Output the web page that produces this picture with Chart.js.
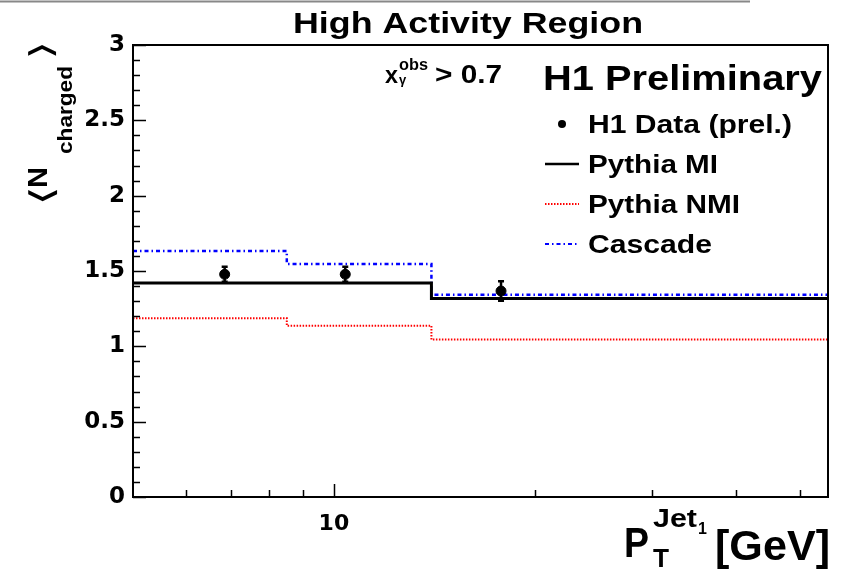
<!DOCTYPE html>
<html>
<head>
<meta charset="utf-8">
<script src="https://cdn.jsdelivr.net/npm/chart.js@4.4.1/dist/chart.umd.min.js"></script>
<style>
  html, body { margin: 0; padding: 0; background: #fff; }
</style>
</head>
<body>
<canvas id="graph" width="846" height="570"></canvas>
<script>
// bin edges in GeV and the per-bin model values
const binEdges = [5, 8.5, 14, 55]
const pythiaMI = [1.42, 1.42, 1.318]
const pythiaNMI = [1.186, 1.137, 1.046]
const cascade = [1.632, 1.546, 1.343]

// H1 data points
const dataPt = [6.86, 10.4, 17.8]
const dataMean = [1.478, 1.478, 1.367]
const dataErr = [0.05, 0.05, 0.065]

// axis ticks
const yTicks = [0, 0.5, 1, 1.5, 2, 2.5, 3]
const xTicks = [10]
const xMinor = [6, 7, 8, 9, 20, 30, 40, 50]

const FONT = '"Liberation Sans", Arial, sans-serif'

const stepPoints = vals => binEdges.map((e, i) => ({ x: e, y: vals[Math.min(i, vals.length - 1)] }))

// draw bold text, optionally stretched to a given width
function fitText(ctx, txt, size, x, y, w) {
    ctx.save()
    ctx.font = `bold ${size}px ${FONT}`
    ctx.textBaseline = 'alphabetic'
    ctx.textAlign = 'left'
    const m = ctx.measureText(txt).width
    ctx.translate(x, y)
    if (w) ctx.scale(w / m, 1)
    ctx.fillText(txt, 0, 0)
    ctx.restore()
}

function fitBox(ctx, txt, font, x0, y0, x1, y1) {
    ctx.save()
    ctx.font = font
    ctx.textBaseline = 'alphabetic'
    ctx.textAlign = 'left'
    const m = ctx.measureText(txt)
    const w = m.actualBoundingBoxLeft + m.actualBoundingBoxRight
    const h = m.actualBoundingBoxAscent + m.actualBoundingBoxDescent
    ctx.translate(x0, y0)
    ctx.scale((x1 - x0) / w, (y1 - y0) / h)
    ctx.fillText(txt, m.actualBoundingBoxLeft, m.actualBoundingBoxAscent)
    ctx.restore()
}

const errorBars = {
    id: 'errorBars',
    afterDatasetsDraw(chart) {
        const { ctx, scales: { x, y } } = chart
        ctx.save()
        ctx.strokeStyle = '#000'
        ctx.lineWidth = 2.5
        dataPt.forEach((p, i) => {
            const px = x.getPixelForValue(p)
            const top = y.getPixelForValue(dataMean[i] + dataErr[i])
            const bot = y.getPixelForValue(dataMean[i] - dataErr[i])
            ctx.beginPath()
            ctx.moveTo(px, top); ctx.lineTo(px, bot)
            ctx.moveTo(px - 3, top); ctx.lineTo(px + 3, top)
            ctx.moveTo(px - 3, bot); ctx.lineTo(px + 3, bot)
            ctx.stroke()
        })
        ctx.restore()
    }
}

const decor = {
    id: 'decor',
    afterDraw(chart) {
        const { ctx, chartArea: a, scales: { x, y } } = chart
        ctx.save()

        // grey line along the top edge
        ctx.strokeStyle = '#888'
        ctx.lineWidth = 2
        ctx.beginPath(); ctx.moveTo(0, 1.5); ctx.lineTo(750, 1.5); ctx.stroke()

        // frame
        ctx.strokeStyle = '#000'
        ctx.lineWidth = 2
        ctx.strokeRect(a.left, a.top, a.right - a.left, a.bottom - a.top)

        // inward ticks
        ctx.lineWidth = 1.5
        ctx.beginPath()
        for (let v = 0; v <= 3.0001; v += 0.1) {
            const py = Math.round(y.getPixelForValue(v)) + 0.5
            const major = Math.abs(v * 2 - Math.round(v * 2)) < 1e-6
            ctx.moveTo(a.left, py); ctx.lineTo(a.left + (major ? 13 : 7), py)
        }
        xTicks.forEach(v => {
            const px = Math.round(x.getPixelForValue(v)) + 0.5
            ctx.moveTo(px, a.bottom); ctx.lineTo(px, a.bottom - 13)
        })
        xMinor.forEach(v => {
            const px = Math.round(x.getPixelForValue(v)) + 0.5
            ctx.moveTo(px, a.bottom); ctx.lineTo(px, a.bottom - 7)
        })
        ctx.stroke()

        ctx.fillStyle = '#000'

        // title
        fitText(ctx, 'High Activity Region', 29, 293, 33, 350)

        // cut label
        fitText(ctx, 'x', 23, 385, 83, 13)
        fitText(ctx, 'obs', 16, 399, 70, 29)
        fitText(ctx, 'γ', 13, 399, 84)
        fitText(ctx, '> 0.7', 25, 435, 83, 67)

        // legend
        fitText(ctx, 'H1 Preliminary', 35, 543, 90, 279)
        fitText(ctx, 'H1 Data (prel.)', 25, 588, 133, 204)
        fitText(ctx, 'Pythia MI', 25, 588, 173, 130)
        fitText(ctx, 'Pythia NMI', 25, 588, 213, 152)
        fitText(ctx, 'Cascade', 25, 588, 253, 124)

        ctx.beginPath(); ctx.arc(562, 124, 4, 0, Math.PI * 2); ctx.fill()
        ctx.lineWidth = 2.5
        ctx.strokeStyle = '#000'
        ctx.beginPath(); ctx.moveTo(545, 164); ctx.lineTo(579, 164); ctx.stroke()
        ctx.lineWidth = 2
        ctx.strokeStyle = '#ff0000'
        ctx.setLineDash([1.5, 1.5])
        ctx.beginPath(); ctx.moveTo(545, 204); ctx.lineTo(579, 204); ctx.stroke()
        ctx.strokeStyle = '#0000ff'
        ctx.setLineDash([4, 3, 1.5, 3])
        ctx.beginPath(); ctx.moveTo(545, 244); ctx.lineTo(579, 244); ctx.stroke()
        ctx.setLineDash([])

        // x axis title
        fitText(ctx, 'P', 42, 624, 557, 25)
        fitText(ctx, 'T', 26, 653, 567, 16)
        fitText(ctx, 'Jet', 26, 653, 527, 44)
        fitText(ctx, '1', 16, 698, 534)
        fitText(ctx, '[GeV]', 42, 715, 560, 115)

        // y axis title, rotated
        ctx.save()
        ctx.rotate(-Math.PI / 2)
        fitBox(ctx, '⟨', `normal 40px "DejaVu Sans"`, -202, 28, -189, 58)
        fitText(ctx, 'N', 27, -188, 47, 21)
        fitText(ctx, 'charged', 21, -154, 72, 88)
        fitBox(ctx, '⟩', `normal 40px "DejaVu Sans"`, -56, 28, -44, 57)
        ctx.restore()

        ctx.restore()
    }
}

const ctx = document.getElementById('graph').getContext('2d')

const data = {
    datasets: [
        {
            label: 'H1 Data (prel.)',
            data: dataPt.map((p, i) => ({ x: p, y: dataMean[i] })),
            backgroundColor: '#000',
            borderColor: '#000',
            pointRadius: 5,
            showLine: false
        },
        {
            label: 'Pythia MI',
            data: stepPoints(pythiaMI),
            borderColor: '#000',
            borderWidth: 3,
            stepped: true,
            showLine: true,
            pointRadius: 0
        },
        {
            label: 'Pythia NMI',
            data: stepPoints(pythiaNMI),
            borderColor: '#ff0000',
            borderWidth: 2,
            borderDash: [1.5, 1.5],
            stepped: true,
            showLine: true,
            pointRadius: 0
        },
        {
            label: 'Cascade',
            data: stepPoints(cascade),
            borderColor: '#0000ff',
            borderWidth: 2.5,
            borderDash: [4, 3, 1.5, 3],
            stepped: true,
            showLine: true,
            pointRadius: 0
        }
    ]
}

const config = {
    type: 'scatter',
    data: data,
    options: {
        responsive: false,
        animation: false,
        layout: { padding: { left: 0, top: 45, right: 18, bottom: 0 } },
        plugins: { legend: { display: false }, tooltip: { enabled: false } },
        scales: {
            x: {
                type: 'logarithmic',
                min: 5,
                max: 55,
                afterBuildTicks: s => { s.ticks = xTicks.map(v => ({ value: v })) },
                afterFit: s => { s.height = 73 },
                grid: { display: false, drawTicks: false },
                border: { display: false },
                ticks: {
                    color: '#000',
                    autoSkip: false,
                    maxRotation: 0,
                    padding: 14,
                    font: { family: 'DejaVu Sans', weight: 'bold', size: 22 },
                    callback: v => String(v)
                }
            },
            y: {
                min: 0,
                max: 3,
                afterBuildTicks: s => { s.ticks = yTicks.map(v => ({ value: v })) },
                afterFit: s => { s.width = 133 },
                grid: { display: false, drawTicks: false },
                border: { display: false },
                ticks: {
                    color: '#000',
                    padding: 8,
                    font: { family: 'DejaVu Sans', weight: 'bold', size: 23 },
                    callback: v => String(v)
                }
            }
        }
    },
    plugins: [errorBars, decor]
}

const graph = new Chart(ctx, config)
</script>
</body>
</html>
